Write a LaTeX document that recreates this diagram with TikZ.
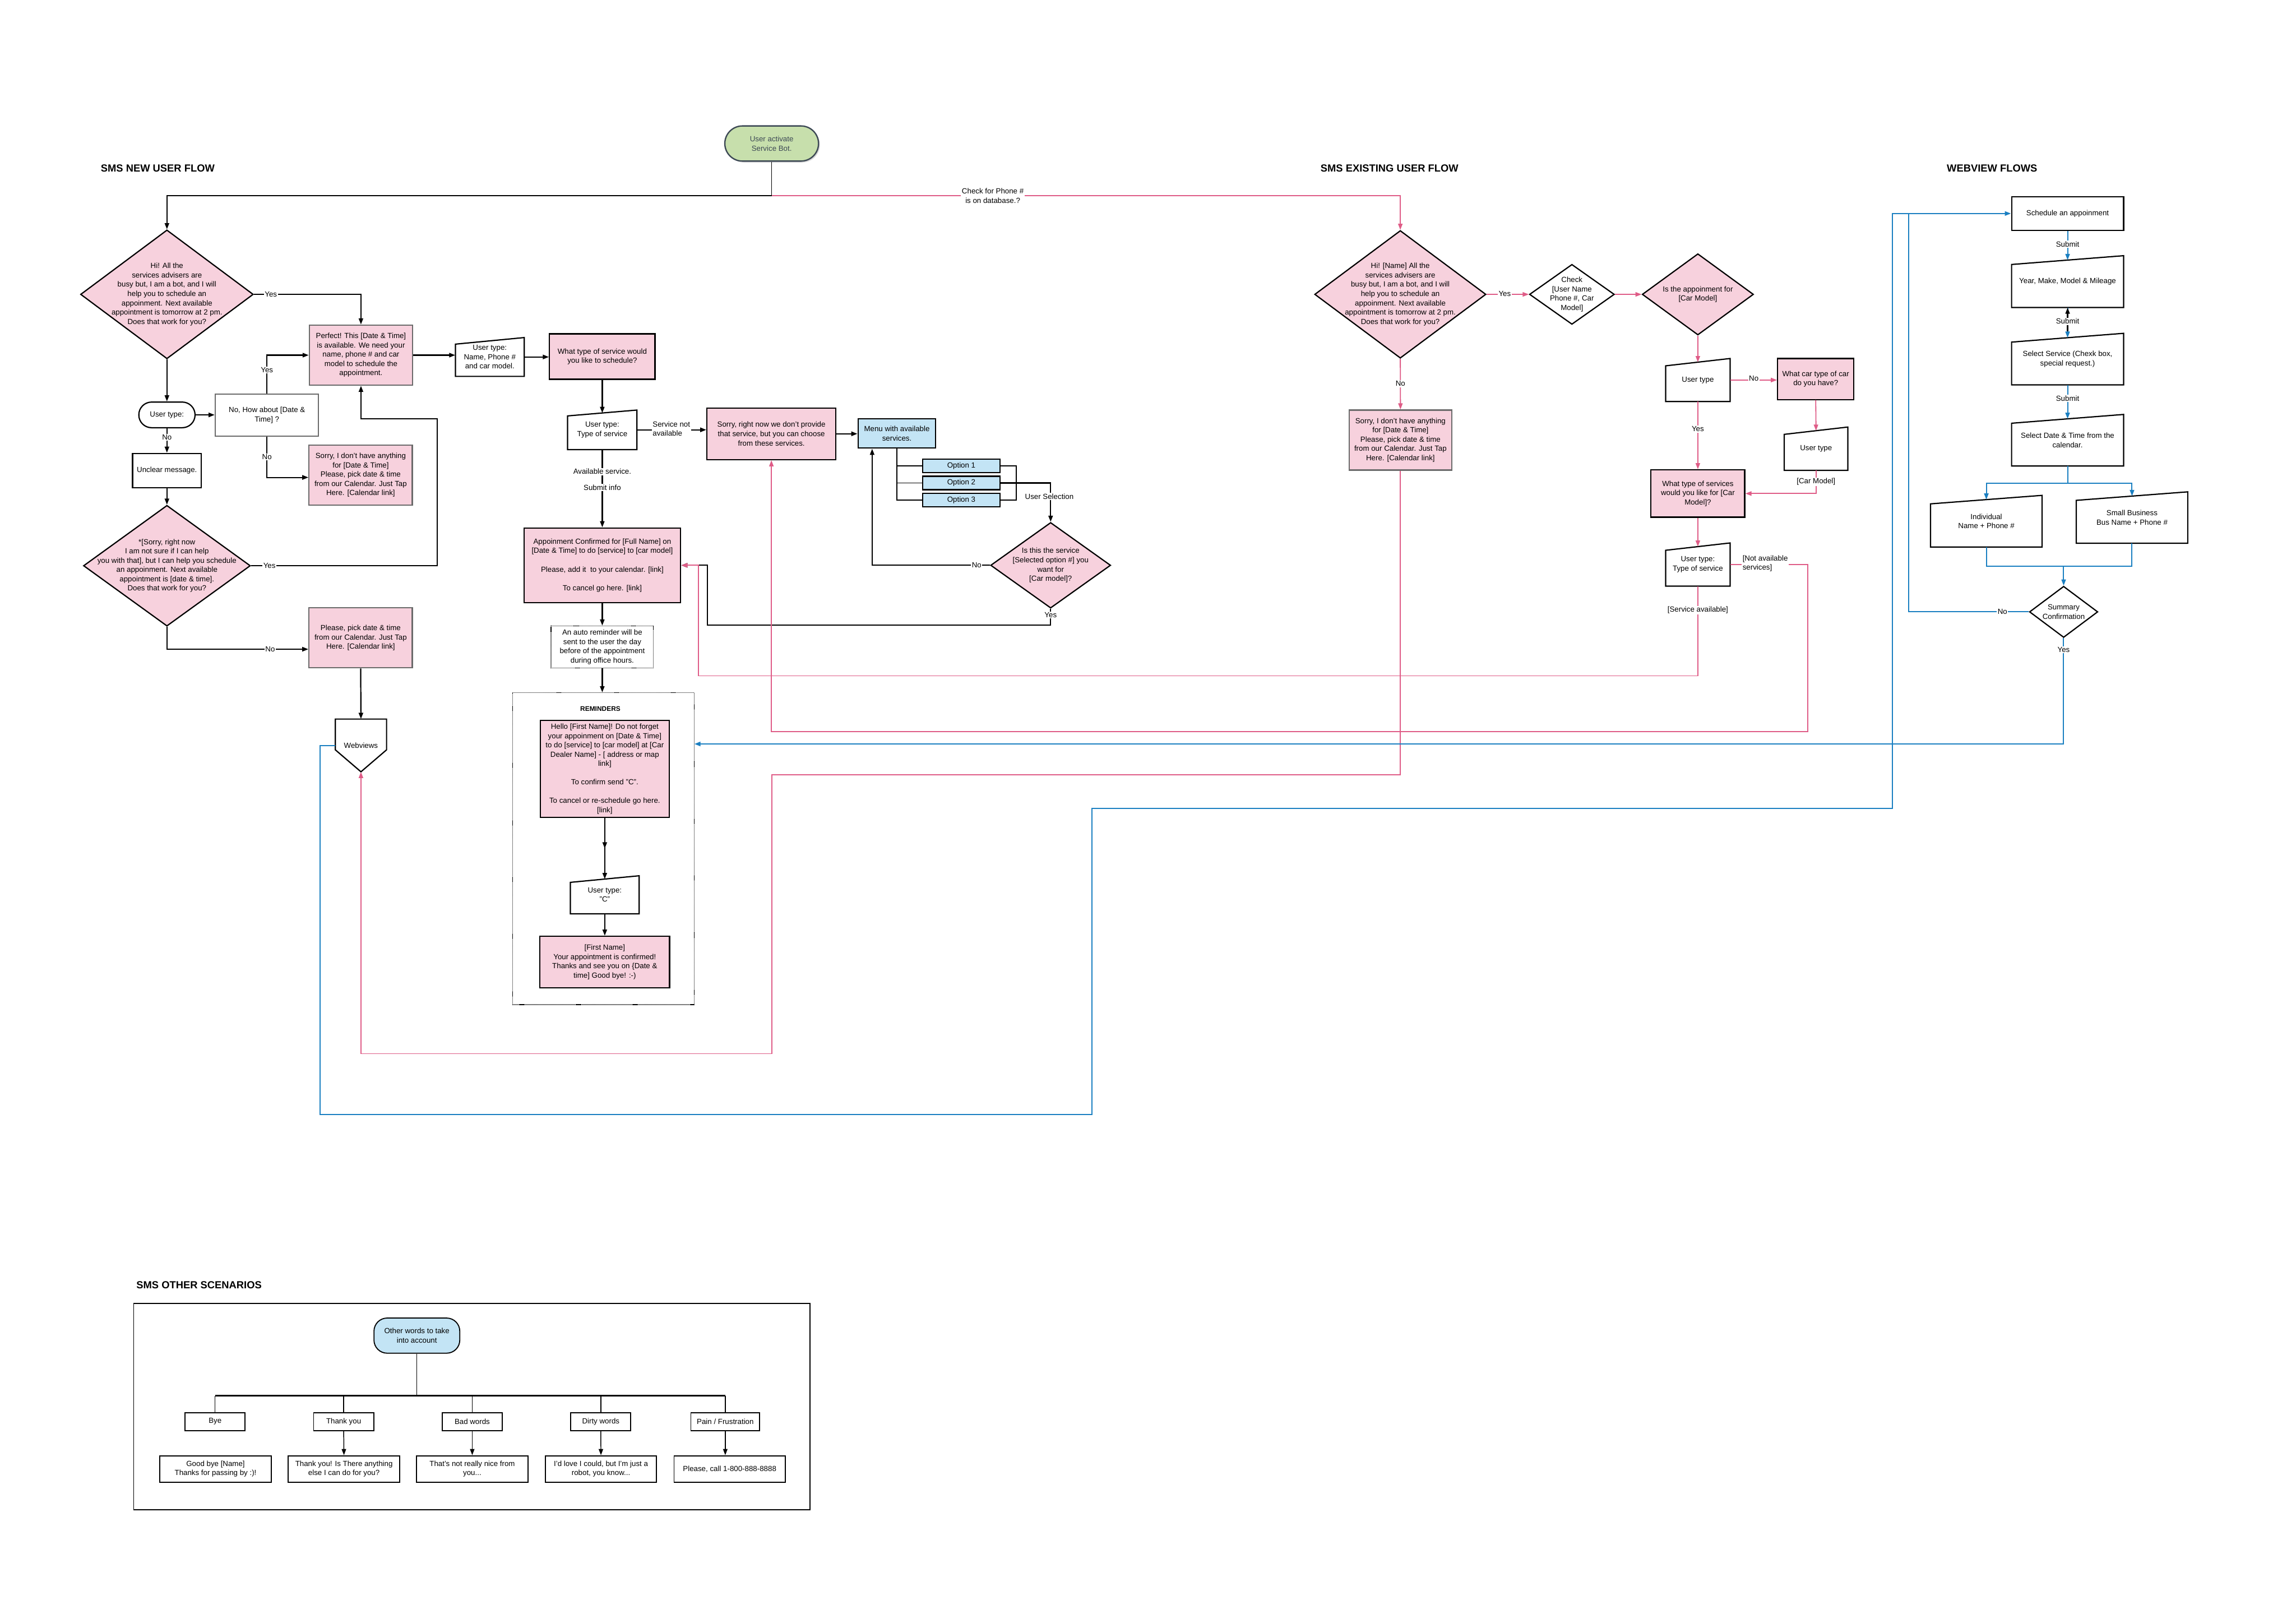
\documentclass[tikz,border=0pt]{standalone}
\usepackage{fontspec}
\setmainfont{Liberation Sans}
\usetikzlibrary{arrows.meta,shapes.geometric,calc,shadows,decorations.markings}
\definecolor{pinkf}{HTML}{F7D1DD}
\definecolor{pinkl}{HTML}{DF5C87}
\definecolor{bluel}{HTML}{1A7FC1}
\definecolor{bluef}{HTML}{C3E4F5}
\definecolor{greenf}{HTML}{C7DFAC}
\definecolor{startb}{HTML}{3D4955}
\definecolor{grayb}{HTML}{6B6B6B}
\newcommand{\myfs}{\fontsize{14.5}{18}\selectfont}
% name, cx, cy, w, h, slant, text
\newcommand{\maninp}[7]{%
  \filldraw[mib] ({#2-#4/2},{#3+#5/2}) -- ({#2+#4/2},{#3+#5/2}) -- ({#2+#4/2},{#3-#5/2}) -- ({#2-#4/2},{#3-#5/2+#6}) -- cycle;
  \node[mi,minimum width=#4mm,minimum height=#5mm] (#1) at (#2,#3) {#7};
  \coordinate (#1-t) at (#2,{#3-#5/2+#6/2});
}
\begin{document}
\begin{tikzpicture}[x=1mm,y=-1mm,
  >={Triangle[length=4.2mm,width=3mm]},
  every node/.style={font=\myfs, align=center, inner sep=0.8mm},
  pbox/.style={rectangle, draw=black, fill=pinkf, line width=2.4pt},
  pgbox/.style={rectangle, draw=grayb, fill=pinkf, line width=2.4pt},
  wbox/.style={rectangle, draw=black, fill=white, line width=2.4pt},
  gbox/.style={rectangle, draw=grayb, fill=white, line width=2.4pt},
  bbox/.style={rectangle, draw=black, fill=bluef, line width=2.4pt},
  dia/.style={diamond, draw=black, fill=pinkf, line width=2.4pt, inner sep=0pt},
  mi/.style={rectangle, draw=none, inner sep=0.5mm},
  mib/.style={draw=black, fill=white, line width=2.4pt, line join=miter},
  conn/.style={draw=black, line width=2.4pt, ->},
  pconn/.style={draw=pinkl, line width=2pt, ->},
  bconn/.style={draw=bluel, line width=2.2pt, ->},
  bline/.style={draw=bluel, line width=2.2pt},
  lab/.style={fill=white, inner sep=0.6mm},
  ttl/.style={font=\bfseries\fontsize{20}{24}\selectfont, anchor=west},
  startn/.style={draw=startb, fill=greenf, line width=2.6pt, rounded corners=12mm, minimum width=64mm, minimum height=24mm, text=startb, drop shadow={opacity=0.3}},
  term/.style={draw=black, fill=white, line width=2.4pt, rounded corners=8.7mm, minimum width=38.4mm, minimum height=17.5mm},
  cat/.style={draw=black, fill=white, line width=2pt, minimum height=12.2mm, minimum width=41mm, inner sep=0.5mm},
  resp/.style={draw=black, fill=white, line width=2pt, minimum width=76mm, minimum height=18mm},
]
\useasboundingbox (0,0) rectangle (1568,1108);
\fill[white] (0,0) rectangle (1568,1108);

% ---------- titles
\node[ttl] (t1) at (68,115) {SMS NEW USER FLOW};
\node[ttl] (t2) at (901,115) {SMS EXISTING USER FLOW};
\node[ttl] (t3) at (1328.7,115) {WEBVIEW FLOWS};
\node[ttl] (t4) at (92.3,877.5) {SMS OTHER SCENARIOS};

% ---------- start
\node[startn] (start) at (527,98) {User activate\\Service Bot.};
\coordinate (j0) at (527,133.7);

% ---------- containers
\node[draw=black, densely dotted, line width=1.2pt, minimum width=124mm, minimum height=213mm] (rc) at (412,579.5) {};
\node[draw=black, line width=2pt, minimum width=461.7mm, minimum height=140.8mm] (oc) at (322.15,960.4) {};

% ---------- SMS new user flow
\node[dia, minimum width=118mm, minimum height=88mm, label={center:{Hi! All the\\services advisers are\\busy but, I am a bot, and I will\\help you to schedule an\\appoinment. Next available\\appointment is tomorrow at 2 pm.\\Does that work for you?}}] (d1) at (114,201) {};
\node[pgbox, minimum width=70.5mm, minimum height=41mm] (p1) at (246.5,242.5) {Perfect! This [Date \& Time]\\is available. We need your\\name, phone \# and car\\model to schedule the\\appointment.};
\maninp{u1}{334.5}{243.75}{47}{26.5}{4.5}{User type:\\Name, Phone \#\\and car model.}
\node[pbox, minimum width=72mm, minimum height=31mm] (q1) at (411.3,243.5) {What type of service would\\you like to schedule?};
\node[term] (tu) at (114,283.3) {User type:};
\node[gbox, minimum width=70.5mm, minimum height=28.7mm] (n1) at (182.3,283.4) {No, How about [Date \&\\Time] ?};
\node[pgbox, minimum width=70.5mm, minimum height=41mm] (s1) at (246.3,324.4) {Sorry, I don't have anything\\for [Date \& Time]\\Please, pick date \& time\\from our Calendar. Just Tap\\Here. [Calendar link]};
\node[wbox, minimum width=47mm, minimum height=23.4mm] (un) at (114,321.3) {Unclear message.};
\node[dia, minimum width=114mm, minimum height=82.5mm, label={center:{*[Sorry, right now\\I am not sure if I can help\\you with that], but I can help you schedule\\an appoinment. Next available\\appointment is [date \& time].\\Does that work for you?}}] (d2) at (114,386.3) {};
\node[pgbox, minimum width=70.5mm, minimum height=41mm] (s2) at (246.3,435.5) {Please, pick date \& time\\from our Calendar. Just Tap\\Here. [Calendar link]};
\filldraw[mib] (229,491) -- (264,491) -- (264,512) -- (246.5,527) -- (229,512) -- cycle;
\node[mi, minimum width=35mm, minimum height=36mm] (wv) at (246.5,509) {Webviews};

% ---------- middle
\maninp{u2}{411.3}{293.5}{47.4}{27}{4}{User type:\\Type of service}
\node[pbox, minimum width=88mm, minimum height=35.3mm] (s3) at (526.8,296.2) {Sorry, right now we don't provide\\that service, but you can choose\\from these services.};
\node[bbox, minimum width=53mm, minimum height=20mm] (m) at (612.5,296) {Menu with available\\services.};
\node[bbox, minimum width=53mm, minimum height=9.2mm, inner sep=0pt] (o1) at (656.5,318) {Option 1};
\node[bbox, minimum width=53mm, minimum height=9.2mm, inner sep=0pt] (o2) at (656.5,329.8) {Option 2};
\node[bbox, minimum width=53mm, minimum height=9.2mm, inner sep=0pt] (o3) at (656.5,341.5) {Option 3};
\node[dia, minimum width=82mm, minimum height=58.5mm, label={center:{Is this the service\\{}[Selected option \#] you\\want for\\{}[Car model]?}}] (d3) at (717.5,386) {};
\node[pbox, minimum width=107mm, minimum height=51mm] (a) at (411.3,386) {Appoinment Confirmed for [Full Name] on\\{}[Date \& Time] to do [service] to [car model]\\[18pt]Please, add it \ to your calendar. [link]\\[18pt]To cancel go here. [link]};
\node[draw=black, densely dotted, line width=1.2pt, fill=white, minimum width=70mm, minimum height=28.6mm] (ar) at (411.3,441.7) {An auto reminder will be\\sent to the user the day\\before of the appointment\\during office hours.};
\node[font=\bfseries\fontsize{13}{15}\selectfont] (rem) at (410,484) {REMINDERS};
\node[pbox, minimum width=88mm, minimum height=66mm] (r1) at (413,525) {Hello [First Name]! Do not forget\\your appoinment on [Date \& Time]\\to do [service] to [car model] at [Car\\Dealer Name] - [ address or map\\link]\\[18pt]To confirm send "C".\\[18pt]To cancel or re-schedule go here.\\{}[link]};
\maninp{u3}{413}{611}{47}{26}{4.5}{User type:\\"C"}
\node[pbox, minimum width=88.5mm, minimum height=35.3mm] (r2) at (413,657) {[First Name]\\Your appointment is confirmed!\\Thanks and see you on \{Date \&\\time] Good bye! :-)};

% ---------- SMS existing user flow
\node[dia, minimum width=117mm, minimum height=87.2mm, label={center:{Hi! [Name] All the\\services advisers are\\busy but, I am a bot, and I will\\help you to schedule an\\appoinment. Next available\\appointment is tomorrow at 2 pm.\\Does that work for you?}}] (e1) at (956.3,201) {};
\node[dia, fill=white, minimum width=58mm, minimum height=41mm, label={center:{Check\\{}[User Name\\Phone \#, Car\\Model]}}] (e2) at (1073.5,201) {};
\node[dia, minimum width=76mm, minimum height=55.5mm, label={center:{Is the appoinment for\\{}[Car Model]}}] (e3) at (1159.5,201) {};
\maninp{u4}{1159.5}{259.5}{44}{29.4}{5}{User type}
\node[pbox, minimum width=52mm, minimum height=28mm] (w1) at (1240,258.8) {What car type of car\\do you have?};
\maninp{u5}{1240.2}{306.4}{43.5}{29.6}{5}{User type}
\node[pbox, minimum width=64mm, minimum height=32.3mm] (t1b) at (1159.5,337) {What type of services\\would you like for [Car\\Model]?};
\maninp{u6}{1159.5}{385.5}{44}{29.5}{5}{User type:\\Type of service}
\node[pgbox, minimum width=70.2mm, minimum height=41mm] (s4) at (956.4,300.5) {Sorry, I don't have anything\\for [Date \& Time]\\Please, pick date \& time\\from our Calendar. Just Tap\\Here. [Calendar link]};

% ---------- webview flows
\node[wbox, minimum width=76.5mm, minimum height=23mm] (sc) at (1412,145.8) {Schedule an appoinment};
\maninp{w2}{1412}{192.3}{76.5}{35.4}{6}{Year, Make, Model \& Mileage}
\maninp{w3}{1412}{245.2}{76.5}{35.2}{6}{Select Service (Chexk box,\\special request.)}
\maninp{w4}{1412}{300.6}{76.5}{35.2}{6}{Select Date \& Time from the\\calendar.}
\maninp{w5}{1356.5}{355.9}{76.2}{35.3}{5.8}{Individual\\Name + Phone \#}
\maninp{w6}{1456}{353.4}{76.1}{35.1}{5.8}{Small Business\\Bus Name + Phone \#}
\node[dia, fill=white, minimum width=46.7mm, minimum height=35mm, label={center:{Summary\\Confirmation}}] (sum) at (1409.3,417.8) {};

% ---------- other scenarios
\node[draw=black, fill=bluef, line width=2pt, rounded corners=9mm, minimum width=58.6mm, minimum height=24mm] (root) at (284.7,912) {Other words to take\\into account};
\node[cat] (c1) at (146.9,970.7) {Bye};
\node[cat] (c2) at (234.7,970.7) {Thank you};
\node[cat] (c3) at (322.5,970.7) {Bad words};
\node[cat] (c4) at (410.3,970.7) {Dirty words};
\node[cat, minimum width=47mm] (c5) at (495.3,970.7) {Pain / Frustration};
\node[resp] (g1) at (147.2,1003) {Good bye [Name]\\Thanks for passing by :)!};
\node[resp] (g2) at (234.9,1003) {Thank you! Is There anything\\else I can do for you?};
\node[resp] (g3) at (322.5,1003) {That's not really nice from\\you...};
\node[resp] (g4) at (410.4,1003) {I'd love I could, but I'm just a\\robot, you know...};
\node[resp] (g5) at (498.3,1003) {Please, call 1-800-888-8888};
\coordinate (bar) at (284.7,953);
\draw[line width=1pt] (root.south) -- (bar);
\draw[line width=2.4pt] (c1.north |- bar) -- (c5.north |- bar);
\foreach \c in {c1,c2,c3,c4,c5} \draw[line width=1.6pt] (\c.north |- bar) -- (\c.north);
\draw[conn, line width=1.6pt] (c2.south) -- (g2.north);
\draw[conn, line width=1.6pt] (c3.south) -- (g3.north);
\draw[conn, line width=1.6pt] (c4.south) -- (g4.north);
\draw[conn, line width=1.6pt] (c5.south) -- (c5.south |- g5.north);

% ---------- connectors: black
\draw[line width=1pt, draw=black] (start.south) -- (j0);
\draw[conn] (j0) -| (d1.north);
\draw[conn] (d1.east) -| (p1.north);
\draw[conn] (p1.east) -- (p1.east -| u1.west);
\draw[conn] (u1.east) -- (u1.east -| q1.west);
\draw[conn] (d1.south) -- (tu.north);
\draw[conn] (tu.east) -- (tu.east -| n1.west);
\draw[conn] (n1.north) |- (p1.west);
\draw[conn] (n1.south) |- ([yshift=-1.6mm]s1.west);
\draw[conn] (tu.south) -- (un.north);
\draw[conn] (un.south) -- (d2.north);
\draw[conn] (d2.east) -- (298.5,386.3) -- (298.5,286) -| (p1.south);
\draw[conn] (d2.south) |- ([yshift=-7.8mm]s2.west);
\draw[conn] (s2.south) -- (wv.north);
\draw[conn] (q1.south) -- (u2-t);
\draw[conn] (u2.east) -- (u2.east -| s3.west);
\draw[conn] (s3.east) -- (s3.east -| m.west);
\draw[line width=2pt] (m.south) -- (m.south |- o3.west) -- (o3.west);
\draw[line width=2pt] (m.south |- o1.west) -- (o1.west);
\draw[line width=2pt] (m.south |- o2.west) -- (o2.west);
\draw[line width=2pt] (o1.east) -- (694,318) -- (694,341.5) -- (o3.east);
\draw[conn] (o2.east) -| (d3.north);
\draw[conn] (d3.west) -| ([xshift=-16.9mm]m.south);
\draw[conn] (d3.south) -- (717.5,426.8) -- (483,426.8) -- (483,386) -- (a.east);
\draw[conn] (u2.south) -- (a.north);
\draw[conn] (a.south) -- (ar.north);
\draw[conn] (ar.south) -- (ar.south |- rc.north);
\draw[conn, postaction={decorate}, decoration={markings, mark=at position 0.5 with {\arrow{Triangle[length=4.2mm,width=3mm]}}}] (r1.south) -- (u3-t);
\draw[conn] (u3.south) -- (r2.north);

% ---------- connectors: pink
\draw[pconn] (j0) -| (e1.north);
\draw[pconn] (e1.east) -- (e2.west);
\draw[pconn] (e2.east) -- (e3.west);
\draw[pconn] (e3.south) -- (u4-t);
\draw[pconn] (u4.east) -- (u4.east -| w1.west);
\draw[pconn] (w1.south) -- (u5-t);
\draw[pconn] (u5.south) |- (t1b.east);
\draw[pconn] (u4.south) -- (t1b.north);
\draw[pconn] (t1b.south) -- (u6-t);
\draw[pconn] (u6.east) -| (1234.7,499.5) -| (s3.south);
\draw[pconn] (u6.south) |- (477,461.5) |- (a.east);
\draw[pconn] (e1.south) -- (s4.north);
\draw[pconn] (s4.south) |- (527,529) |- (246.5,719.5) -- (wv.south);

% ---------- connectors: blue
\draw[bconn] (wv.west) -- (218.5,509) -- (218.5,761) -- (745.7,761) -- (745.7,552) -- (1292.5,552) |- (sc.west);
\draw[bline] (sum.west) -| (1303.5,145.8);
\draw[bconn] (sum.south) |- ([yshift=71.5mm]rc.east);
\draw[bconn] (sc.south) -- (w2-t);
\draw[bconn] (w2.south) -- (w3-t);
\draw[conn, shorten <=4.2mm] (w3-t) -- (w2.south);
\draw[bconn] (w3.south) -- (w4-t);
\coordinate (jw) at (1412,329.8);
\draw[bline] (w4.south) -- (jw);
\draw[bconn] (jw) -| (w5-t);
\draw[bconn] (jw) -| (w6-t);
\coordinate (js) at (1409.3,386.5);
\draw[bline] (w5.south) |- (js);
\draw[bline] (w6.south) |- (js);
\draw[bconn] (js) -- (sum.north);

% ---------- labels
\node[lab] (lc) at (678,133.7) {Check for Phone \#\\is on database.?};
\node[lab] at (185,201) {Yes};
\node[lab] at (182.3,252.7) {Yes};
\node[lab] at (182.3,312) {No};
\node[lab] at (114,298.5) {No};
\node[lab] at (184,386.3) {Yes};
\node[lab] at (184.5,443.3) {No};
\node[lab, align=left] at (458.5,292.7) {Service not\\available};
\node[lab] at (716.6,339) {User Selection};
\node[lab] at (667,386) {No};
\node[lab] at (717.5,420) {Yes};
\node[lab] at (411.3,322) {Available service.};
\node[lab] at (411.3,333) {Submit info};
\node[lab] at (1027.6,200.5) {Yes};
\node[lab] at (1197.7,258.5) {No};
\node[lab] at (1240.2,329) {[Car Model]};
\node[lab] at (1159.5,293) {Yes};
\node[lab, align=left] at (1205.5,384.8) {[Not available\\services]};
\node[lab] at (1159.5,416.6) {[Service available]};
\node[lab] at (956.4,262) {No};
\node[lab] at (1367.5,417.8) {No};
\node[lab] at (1409.3,443.6) {Yes};
\node[lab] at (1412,166.7) {Submit};
\node[lab] at (1412,219.4) {Submit};
\node[lab] at (1412,272) {Submit};
\end{tikzpicture}
\end{document}
